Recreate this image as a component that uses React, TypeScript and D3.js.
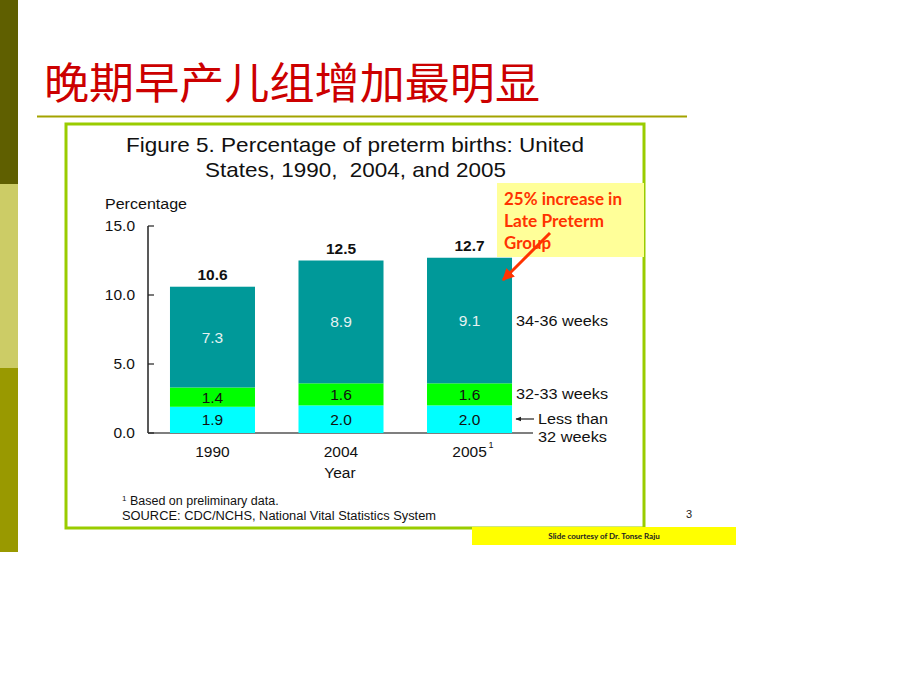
import React from "react";
import * as d3 from "d3";

const years = ["1990", "2004", "2005"];
const lessThan32 = [1.9, 2.0, 2.0];
const weeks32to33 = [1.4, 1.6, 1.6];
const weeks34to36 = [7.3, 8.9, 9.1];
const totals = ["10.6", "12.5", "12.7"];
const yTicks = [0, 5, 10, 15];
const seriesNames = ["lessThan32", "weeks32to33", "weeks34to36"];

export default function App() {
  const W = 920, H = 690;
  const y = d3.scaleLinear().domain([0, 15]).range([433, 226]);
  const x = d3.scaleBand().domain(years).range([148, 534]).paddingInner(0.3385).paddingOuter(0.171);
  const rows = years.map((yr, i) => ({
    year: yr,
    lessThan32: lessThan32[i],
    weeks32to33: weeks32to33[i],
    weeks34to36: weeks34to36[i],
  }));
  const stack = d3.stack<any>().keys(seriesNames)(rows);
  const colors: Record<string, string> = {
    lessThan32: "#00ffff",
    weeks32to33: "#00ff00",
    weeks34to36: "#009999",
  };
  const labelColor: Record<string, string> = {
    lessThan32: "#111",
    weeks32to33: "#111",
    weeks34to36: "#e6f2f2",
  };
  const arial = "'Liberation Sans', Arial, sans-serif";
  const bw = x.bandwidth();

  return (
    <svg width={W} height={H} style={{ position: "absolute", left: 0, top: 0, background: "#fff" }}>
      <defs>
        <marker id="ah" viewBox="0 0 10 10" refX="9" refY="5" markerWidth="4" markerHeight="4" orient="auto">
          <path d="M0,0 L10,5 L0,10 z" fill="#ff3300" />
        </marker>
        <marker id="ah2" viewBox="0 0 10 10" refX="9" refY="5" markerWidth="5" markerHeight="5" orient="auto">
          <path d="M0,1 L10,5 L0,9 z" fill="#222" />
        </marker>
      </defs>
      {/* left stripe */}
      <rect x={0} y={0} width={18} height={184} fill="#5f5f00" />
      <rect x={0} y={184} width={18} height={184} fill="#cccc66" />
      <rect x={0} y={368} width={18} height={184} fill="#999900" />

      {/* title */}
      <text x={44} y={99} fontFamily="'Noto Sans CJK SC', sans-serif" fontSize={43} fill="#cc0000" textLength={496} lengthAdjust="spacingAndGlyphs">
        晚期早产儿组增加最明显
      </text>
      <line x1={37} x2={687} y1={116.5} y2={116.5} stroke="#a3a300" strokeWidth={2} />

      {/* frame */}
      <rect x={66} y={124} width={578} height={404} fill="none" stroke="#99cc00" strokeWidth={3} />

      {/* figure title */}
      <text x={126} y={152} fontFamily={arial} fontSize={21} fill="#111" textLength={458} lengthAdjust="spacingAndGlyphs">
        Figure 5. Percentage of preterm births: United
      </text>
      <text x={205} y={177} fontFamily={arial} fontSize={21} fill="#111" textLength={301} lengthAdjust="spacingAndGlyphs" style={{ whiteSpace: "pre" }}>
        {"States, 1990,  2004, and 2005"}
      </text>

      {/* y axis */}
      <text x={105} y={209} fontFamily={arial} fontSize={15.5} fill="#111" textLength={82} lengthAdjust="spacingAndGlyphs">Percentage</text>
      <line x1={148} x2={148} y1={y(15)} y2={y(0)} stroke="#222" strokeWidth={1.5} />
      <line x1={148} x2={533} y1={y(0)} y2={y(0)} stroke="#555" strokeWidth={1.5} />
      {yTicks.map((t) => (
        <g key={t}>
          <line x1={148} x2={154} y1={y(t)} y2={y(t)} stroke="#222" strokeWidth={1.2} />
          <text x={135} y={y(t) + 5} textAnchor="end" fontFamily={arial} fontSize={15.5} fill="#111">
            {t.toFixed(1)}
          </text>
        </g>
      ))}

      {/* bars */}
      {stack.map((s) => (
        <g key={s.key}>
          {s.map((d, i) => {
            const x0 = x(years[i])!;
            const top = y(d[1]);
            const bot = y(d[0]);
            const val = d[1] - d[0];
            return (
              <g key={i}>
                <rect x={x0} y={top} width={bw} height={bot - top} fill={colors[s.key]} />
                <text x={x0 + bw / 2} y={(top + bot) / 2 + 5.5} textAnchor="middle" fontFamily={arial} fontSize={15.5} fill={labelColor[s.key]}>
                  {val.toFixed(1)}
                </text>
              </g>
            );
          })}
        </g>
      ))}
      {years.map((yr, i) => {
        const cx = x(yr)! + bw / 2;
        const sum = lessThan32[i] + weeks32to33[i] + weeks34to36[i];
        return (
          <g key={yr}>
            <text x={cx} y={y(sum) - 7} textAnchor="middle" fontFamily={arial} fontSize={15.5} fontWeight="bold" fill="#111">
              {totals[i]}
            </text>
            <text x={cx} y={457} textAnchor="middle" fontFamily={arial} fontSize={15.5} fill="#111">{yr}</text>
          </g>
        );
      })}
      <text x={x("2005")! + bw / 2 + 19} y={448} fontFamily={arial} fontSize={9} fill="#111">1</text>
      <text x={340} y={478} textAnchor="middle" fontFamily={arial} fontSize={15.5} fill="#111">Year</text>

      {/* legend labels */}
      <text x={516} y={326} fontFamily={arial} fontSize={15.5} fill="#111" textLength={92} lengthAdjust="spacingAndGlyphs">34-36 weeks</text>
      <text x={516} y={399} fontFamily={arial} fontSize={15.5} fill="#111" textLength={92} lengthAdjust="spacingAndGlyphs">32-33 weeks</text>
      <line x1={534} x2={516} y1={419} y2={419} stroke="#222" strokeWidth={1.2} markerEnd="url(#ah2)" />
      <text x={538} y={424} fontFamily={arial} fontSize={15.5} fill="#111" textLength={70} lengthAdjust="spacingAndGlyphs">Less than</text>
      <text x={538} y={442} fontFamily={arial} fontSize={15.5} fill="#111" textLength={69} lengthAdjust="spacingAndGlyphs">32 weeks</text>

      {/* annotation */}
      <rect x={497} y={183} width={147} height={74} fill="#ffff99" />
      {[["25% increase in", 118], ["Late Preterm", 100], ["Group", 47]].map(([t, len], i) => (
        <text key={t as string} x={504} y={205 + i * 22} fontFamily="Lato, 'Open Sans', sans-serif" fontWeight="bold" fontSize={16.5} fill="#ff3300" textLength={len as number} lengthAdjust="spacingAndGlyphs">
          {t}
        </text>
      ))}
      <line x1={550} y1={233} x2={503} y2={280} stroke="#ff3300" strokeWidth={3} markerEnd="url(#ah)" />

      {/* footnotes */}
      <text x={122} y={505} fontFamily={arial} fontSize={12.5} fill="#111">
        <tspan fontSize={8} dy={-4}>1</tspan>
        <tspan dy={4}> Based on preliminary data.</tspan>
      </text>
      <text x={122} y={520} fontFamily={arial} fontSize={12.5} fill="#111" textLength={314} lengthAdjust="spacingAndGlyphs">SOURCE: CDC/NCHS, National Vital Statistics System</text>

      <text x={689} y={518} textAnchor="middle" fontFamily={arial} fontSize={11} fill="#222">3</text>
      <rect x={472} y={527} width={264} height={18} fill="#ffff00" />
      <text x={604} y={539} textAnchor="middle" fontFamily="Lato, sans-serif" fontWeight="bold" fontSize={8} fill="#222">
        Slide courtesy of Dr. Tonse Raju
      </text>
    </svg>
  );
}
